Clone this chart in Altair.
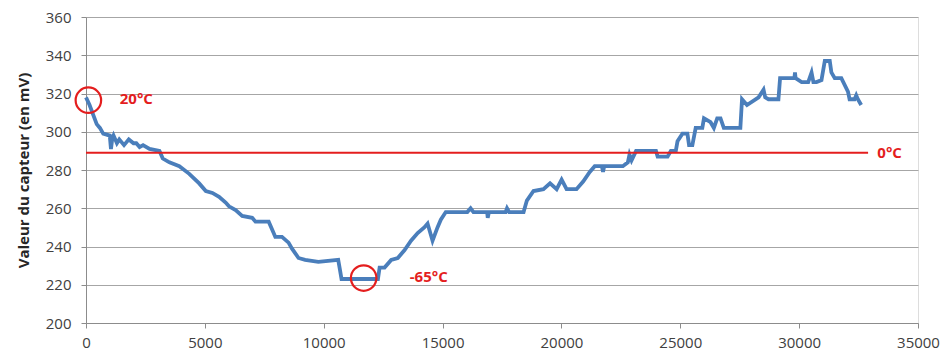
import altair as alt
import pandas as pd

# traced sensor curve
xs = [0, 150, 450, 585, 724, 1000, 1050, 1100, 1160, 1300, 1400, 1600, 1800, 2000, 2116, 2255, 2400,
      2673, 3090, 3229, 3508, 3926, 4344, 4762, 5040, 5318, 5597, 5875, 6015, 6293, 6571, 6989, 7130,
      7686, 7825, 7964, 8243, 8521, 8660, 8939, 9218, 9774, 10610, 10680, 10749, 12281, 12351, 12560,
      12838, 13116, 13395, 13673, 13952, 14230, 14369, 14578, 14787, 14926, 15134, 16040, 16179, 16300,
      16875, 16900, 16950, 17650, 17711, 17800, 18408, 18546, 18825, 19243, 19521, 19799, 20008, 20217,
      20635, 20914, 21192, 21401, 21700, 21750, 21800, 22585, 22794, 22863, 22950, 23141, 23977, 24047,
      24465, 24604, 24812, 24883, 25091, 25300, 25369, 25508, 25648, 25927, 25996, 26274, 26413, 26553,
      26692, 26831, 27527, 27597, 27806, 28294, 28502, 28572, 28711, 29129, 29198, 29800, 29825, 29850,
      30104, 30382, 30522, 30600, 30731, 30940, 31079, 31288, 31357, 31497, 31775, 32054, 32122, 32331,
      32401, 32470, 32610]
ys = [318, 314, 304, 302, 299, 298, 291, 296, 298, 294, 296, 293, 296, 294, 294, 292, 293,
      291, 290, 286, 284, 282, 278, 273, 269, 268, 266, 263, 261, 259, 256, 255, 253,
      253, 249, 245, 245, 242, 239, 234, 233, 232, 233, 228, 223, 223, 229, 229,
      233, 234, 238, 243, 247, 250, 252, 243, 250, 254, 258, 258, 260, 258,
      258, 255, 258, 258, 260, 258, 258, 264, 269, 270, 273, 270, 275, 270,
      270, 274, 279, 282, 282, 279, 282, 282, 284, 288, 285, 290, 290, 287,
      287, 290, 290, 295, 299, 299, 293, 293, 302, 302, 307, 305, 302, 307,
      307, 302, 302, 317, 314, 318, 322, 318, 317, 317, 328, 328, 331, 328,
      326, 326, 331, 326, 326, 327, 337, 337, 331, 328, 328, 321, 317, 317,
      319, 317, 314]

# axis ticks
x_ticks = [0, 5000, 10000, 15000, 20000, 25000, 30000, 35000]
y_ticks = [200, 220, 240, 260, 280, 300, 320, 340, 360]

# reference line (0°C)
ref_x = [0, 32900]
ref_y = [289, 289]

# highlighted points
circ_x = [100, 11680]
circ_y = [316.5, 223.5]

# annotations
lab_text = ["20°C", "0°C", "-65°C"]
lab_x = [1420, 33290, 13620]
lab_y = [317, 289, 224]

RED = "#e41e1e"
BLUE = "#4a7ebb"

df = pd.DataFrame({"x": xs, "y": ys})
ref = pd.DataFrame({"x": ref_x, "y": ref_y})
circ = pd.DataFrame({"x": circ_x, "y": circ_y})
labs = pd.DataFrame({"x": lab_x, "y": lab_y, "t": lab_text})

xscale = alt.Scale(domain=[0, 35000], nice=False)
yscale = alt.Scale(domain=[200, 360], nice=False, zero=False)

xaxis = alt.Axis(values=x_ticks, title=None, grid=False, format="d",
                 domainColor="#8c8c8c", tickColor="#8c8c8c", tickSize=5,
                 labelPadding=7, labelFontSize=15, labelColor="#404040",
                 labelFont="Open Sans", labelFlush=False, labelOverlap=False)
yaxis = alt.Axis(values=y_ticks, title="Valeur du capteur (en mV)",
                 grid=True, gridColor="#a6a6a6", domainColor="#8c8c8c", format="d",
                 tickColor="#8c8c8c", tickSize=5, labelPadding=10, labelFontSize=15,
                 labelColor="#404040", labelFont="Open Sans", titleFont="Open Sans",
                 titleFontSize=15, titleFontWeight="bold", titleColor="#262626",
                 titlePadding=14, labelOverlap=False, labelFlush=False)

X = alt.X("x:Q", scale=xscale, axis=xaxis)
Y = alt.Y("y:Q", scale=yscale, axis=yaxis)

line = alt.Chart(df).mark_line(color=BLUE, strokeWidth=3.8).encode(x=X, y=Y)
refline = alt.Chart(ref).mark_line(color=RED, strokeWidth=2).encode(x=X, y=Y)
circles = alt.Chart(circ).mark_point(shape="circle", size=650, filled=False,
                                     color=RED, strokeWidth=2.2, opacity=1).encode(x=X, y=Y)
texts = alt.Chart(labs).mark_text(align="left", baseline="middle", color=RED,
                                  fontSize=15, fontWeight="bold", font="Open Sans").encode(
    x=X, y=Y, text="t:N")

chart = alt.layer(line, refline, circles, texts).properties(
    width=832, height=306,
    autosize=alt.AutoSizeParams(type="none"),
    padding={"left": 78, "top": 9, "right": 23, "bottom": 33},
).configure_view(stroke=None).configure(background="white")

chart.save("out.html", embed_options={"renderer": "svg", "actions": False})
